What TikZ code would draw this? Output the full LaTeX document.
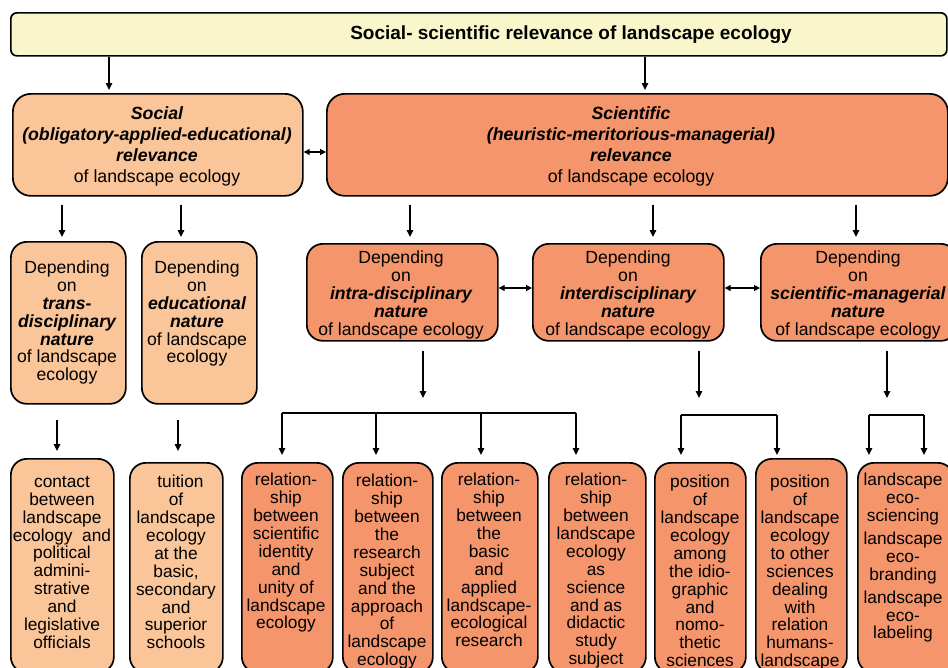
\documentclass[tikz,border=0pt]{standalone}
\usepackage{fontspec}
\setmainfont{Liberation Sans}
\usetikzlibrary{arrows.meta,calc}

\definecolor{titlefill}{RGB}{248,246,202}
\definecolor{socfill}{RGB}{250,197,152}
\definecolor{scifill}{RGB}{244,149,108}

\newcommand\bitxt[1]{{\bfseries\itshape #1}}

\tikzset{
  box/.style={draw=black, line width=1.7pt, rounded corners=16pt,
              anchor=north west, inner sep=0pt},
  socbox/.style={box, fill=socfill},
  scibox/.style={box, fill=scifill},
  txtone/.style={align=center, inner sep=0pt, anchor=north,
                 font=\fontsize{17.7}{21}\selectfont},
  txttwo/.style={align=center, inner sep=0pt, anchor=north,
                 font=\fontsize{17.6}{17.8}\selectfont},
  txtthree/.style={align=center, inner sep=0pt, anchor=north,
                   font=\fontsize{17.3}{17.9}\selectfont},
  arr/.style={-{Triangle[length=7pt,width=6.5pt]}, line width=1.1pt},
  darr/.style={{Triangle[length=6pt,width=6pt]}-{Triangle[length=6pt,width=6pt]}, line width=1.1pt},
  bar/.style={line width=1.1pt},
}

\begin{document}
\begin{tikzpicture}[x=1pt,y=-1pt]
\useasboundingbox (0,0) rectangle (948,667);
\clip (0,0) rectangle (948,667);

% ---------- title bar ----------
\node[box, fill=titlefill, rounded corners=6pt, minimum width=936pt, minimum height=43pt] (top) at (10,12) {};
\node[font=\bfseries\fontsize{19}{21}\selectfont, inner sep=0pt] (topt) at (571,35)
  {Social- scientific relevance of landscape ecology};

% ---------- first level ----------
\node[socbox, rounded corners=18pt, minimum width=290pt, minimum height=102pt] (soc) at (12,93) {};
\node[txtone] (soct) at (157,106)
  {\bitxt{Social}\\\bitxt{(obligatory-applied-educational)}\\\bitxt{relevance}\\of landscape ecology};

\node[scibox, rounded corners=18pt, minimum width=621pt, minimum height=102pt] (sci) at (326,93) {};
\node[txtone] (scit) at (631,106)
  {\bitxt{Scientific}\\\bitxt{(heuristic-meritorious-managerial)}\\\bitxt{relevance}\\of landscape ecology};

% ---------- second level ----------
\node[socbox, minimum width=115pt, minimum height=162pt] (trans) at (10,241) {};
\node[txttwo] (transt) at (67,261)
  {Depending\\on\\\bitxt{trans-}\\\bitxt{disciplinary}\\\bitxt{nature}\\of landscape\\ecology};

\node[socbox, minimum width=115pt, minimum height=162pt] (edu) at (141,241) {};
\node[txttwo] (edut) at (197,261)
  {Depending\\on\\\bitxt{educational}\\\bitxt{nature}\\of landscape\\ecology};

\node[scibox, minimum width=191pt, minimum height=97pt] (intra) at (306,243) {};
\node[txttwo] (intrat) at (401,251)
  {Depending\\on\\\bitxt{intra-disciplinary}\\\bitxt{nature}\\of landscape ecology};

\node[scibox, minimum width=191pt, minimum height=97pt] (inter) at (532,243) {};
\node[txttwo] (intert) at (628,251)
  {Depending\\on\\\bitxt{interdisciplinary}\\\bitxt{nature}\\of landscape ecology};

\node[scibox, minimum width=196pt, minimum height=97pt] (sciman) at (760,243) {};
\node[txttwo] (scimant) at (858,251)
  {Depending\\on\\\bitxt{scientific-managerial}\\\bitxt{nature}\\of landscape ecology};

% ---------- third level ----------
\node[socbox, minimum width=103pt, minimum height=214pt] (contact) at (10,458) {};
\node[txtthree] (contactt) at (62,476)
  {contact\\between\\landscape\\ecology~ and\\political\\admini-\\strative\\and\\legislative\\officials};

\node[socbox, minimum width=93pt, minimum height=210pt] (tuition) at (129,462) {};
\node[txtthree] (tuitiont) at (176,475)
  {\hspace{9pt}tuition\\of\\landscape\\ecology\\at the\\basic,\\secondary\\and\\superior\\schools};

\node[scibox, minimum width=91pt, minimum height=210pt] (ra) at (241,462) {};
\node[txtthree] (rat) at (286,473)
  {relation-\\ship\\between\\scientific\\identity\\and\\unity of\\landscape\\ecology};

\node[scibox, minimum width=90pt, minimum height=210pt] (rb) at (342,462) {};
\node[txtthree] (rbt) at (387,474)
  {relation-\\ship\\between\\the\\research\\subject\\and the\\approach\\of\\landscape\\ecology};

\node[scibox, minimum width=96pt, minimum height=210pt] (rc) at (441,462) {};
\node[txtthree] (rct) at (489,473)
  {relation-\\ship\\between\\the\\basic\\and\\applied\\landscape-\\ecological\\research};

\node[scibox, minimum width=97pt, minimum height=210pt] (rd) at (548,462) {};
\node[txtthree] (rdt) at (596,473)
  {relation-\\ship\\between\\landscape\\ecology\\as\\science\\and as\\didactic\\study\\subject};

\node[scibox, minimum width=91pt, minimum height=210pt] (pa) at (654,462) {};
\node[txtthree] (pat) at (700,475)
  {position\\of\\landscape\\ecology\\among\\the idio-\\graphic\\and\\nomo-\\thetic\\sciences};

\node[scibox, minimum width=91pt, minimum height=214pt] (pb) at (755,458) {};
\node[txtthree] (pbt) at (800,475)
  {position\\of\\landscape\\ecology\\to other\\sciences\\dealing\\with\\relation\\humans-\\landscape};

\node[scibox, minimum width=96pt, minimum height=210pt] (eco) at (857,462) {};
\node[txtthree] (ecot) at (903,473)
  {landscape\\eco-\\sciencing\\[5pt]landscape\\eco-\\branding\\[5pt]landscape\\eco-\\labeling};

% ---------- connector positions ----------
\coordinate (xa) at (109,0);   \coordinate (xb) at (645,0);
\coordinate (xc) at (62,0);    \coordinate (xd) at (181,0);
\coordinate (xe) at (410,0);   \coordinate (xf) at (653,0);
\coordinate (xg) at (856,0);
\coordinate (xh) at (57,0);    \coordinate (xi) at (178,0);
\coordinate (ja) at (423,398); \coordinate (jb) at (699,398); \coordinate (jc) at (887,398);
\coordinate (ka) at (282,413); \coordinate (kb) at (376,413);
\coordinate (kc) at (481,413); \coordinate (kd) at (576,413);
\coordinate (ke) at (681,415); \coordinate (kf) at (777,415);
\coordinate (kg) at (869,415); \coordinate (kh) at (924,415);

% title to first level
\draw[arr] (top.south -| xa) -- ($(soc.north -| xa)+(0,-3)$);
\draw[arr] (top.south -| xb) -- ($(sci.north -| xb)+(0,-3)$);

% first level to second level
\draw[arr] ($(soc.south -| xc)+(0,8)$) -- ($(trans.north -| xc)+(0,-4)$);
\draw[arr] ($(soc.south -| xd)+(0,8)$) -- ($(edu.north -| xd)+(0,-4)$);
\draw[arr] ($(sci.south -| xe)+(0,8)$) -- ($(intra.north -| xe)+(0,-6)$);
\draw[arr] ($(sci.south -| xf)+(0,8)$) -- ($(inter.north -| xf)+(0,-6)$);
\draw[arr] ($(sci.south -| xg)+(0,8)$) -- ($(sciman.north -| xg)+(0,-6)$);

% mutual links
\draw[darr] (soc.east |- 0,152) -- (sci.west |- 0,152);
\draw[darr] (intra.east |- 0,288) -- (inter.west |- 0,288);
\draw[darr] (inter.east |- 0,288) -- (sciman.west |- 0,288);

% second level to third level
\draw[arr] ($(trans.south -| xh)+(0,15)$) -- ($(contact.north -| xh)+(0,-7)$);
\draw[arr] ($(edu.south -| xi)+(0,15)$) -- ($(tuition.north -| xi)+(0,-11)$);

\draw[arr] ($(intra.south -| ja)+(0,9)$) -- (ja);
\draw[arr] ($(inter.south -| jb)+(0,9)$) -- (jb);
\draw[arr] ($(sciman.south -| jc)+(0,9)$) -- (jc);

\draw[bar] (ka) -- (kd);
\draw[bar] (ke) -- (kf);
\draw[bar] (kg) -- (kh);

\draw[arr] (ka) -- ($(ra.north -| ka)+(0,-7)$);
\draw[arr] (kb) -- ($(rb.north -| kb)+(0,-7)$);
\draw[arr] (kc) -- ($(rc.north -| kc)+(0,-7)$);
\draw[arr] (kd) -- ($(rd.north -| kd)+(0,-7)$);
\draw[arr] (ke) -- ($(pa.north -| ke)+(0,-7)$);
\draw[arr] (kf) -- ($(pb.north -| kf)+(0,-3)$);
\draw[arr] (kg) -- ($(eco.north -| kg)+(0,-7)$);
\draw[arr] (kh) -- ($(eco.north -| kh)+(0,-7)$);

\end{tikzpicture}
\end{document}
